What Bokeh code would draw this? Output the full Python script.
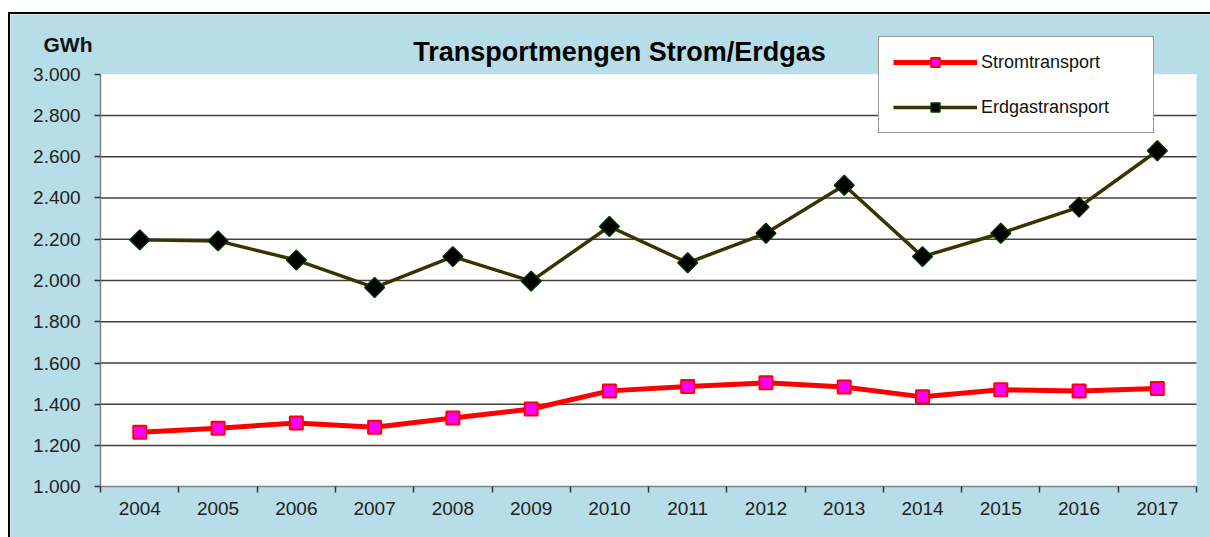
import numpy as np
from bokeh.plotting import figure
from bokeh.models import (Range1d, FixedTicker, Legend, LegendItem, Label, Spacer,
                          LinearAxis, BoxAnnotation)
from bokeh.layouts import column, row
from bokeh.embed import file_html
from bokeh.resources import INLINE

years = [2004, 2005, 2006, 2007, 2008, 2009, 2010, 2011, 2012, 2013, 2014, 2015, 2016, 2017]
strom = [1265, 1284, 1309, 1289, 1333, 1377, 1465, 1486, 1504, 1484, 1436, 1471, 1465, 1476]
erdgas = [2197, 2192, 2099, 1966, 2116, 1997, 2262, 2086, 2229, 2462, 2116, 2229, 2356, 2629]
y_ticks = [1000, 1200, 1400, 1600, 1800, 2000, 2200, 2400, 2600, 2800, 3000]
y_tick_labels = ["1.000", "1.200", "1.400", "1.600", "1.800", "2.000",
                 "2.200", "2.400", "2.600", "2.800", "3.000"]
title_text = "Transportmengen Strom/Erdgas"
unit_text = "GWh"
series_names = ["Stromtransport", "Erdgastransport"]

FONT = "Liberation Sans"
BLUE = "#B7DDE8"

# layout geometry (pixels) - the frame fills the whole canvas
FRAME_W, FRAME_H = 1200, 523
PLOT_LEFT, PLOT_RIGHT = 90, 1184        # data area inside frame (x)
PLOT_TOP, PLOT_BOTTOM = 59.5, 470.5     # data area inside frame (y, from top)
x0, x1 = years[0] - 0.5, years[-1] + 0.5
xppu = (PLOT_RIGHT - PLOT_LEFT) / (x1 - x0)
y0, y1 = y_ticks[0], y_ticks[-1]
yppu = (PLOT_BOTTOM - PLOT_TOP) / (y1 - y0)

p = figure(frame_width=FRAME_W, frame_height=FRAME_H,
           min_border_left=0, min_border_top=0, min_border_right=0, min_border_bottom=0,
           x_range=Range1d(x0 - PLOT_LEFT / xppu, x1 + (FRAME_W - PLOT_RIGHT) / xppu),
           y_range=Range1d(y0 - (FRAME_H - PLOT_BOTTOM) / yppu, y1 + PLOT_TOP / yppu),
           x_axis_location=None, y_axis_location=None,
           output_backend="svg", toolbar_location=None,
           border_fill_color=BLUE, background_fill_color=BLUE,
           outline_line_color=None)
p.styles = {"border-top": "2px solid black", "border-left": "2px solid black"}
p.xgrid.visible = False
p.ygrid.visible = False

# white plot area
p.add_layout(BoxAnnotation(left=x0, right=x1, bottom=y0, top=y1, fill_color="white",
                           fill_alpha=1.0, line_color=None, level="underlay"))

# x axis: labels at centers, ticks at boundaries
xa = LinearAxis(fixed_location=y0, bounds=(x0, x1))
xa.ticker = FixedTicker(ticks=years, minor_ticks=[y - 0.5 for y in years] + [x1])
xa.major_label_overrides = {y: str(y) for y in years}
xa.major_tick_out = 0
xa.major_tick_in = 0
xa.minor_tick_out = 6
xa.minor_tick_in = 0
xa.minor_tick_line_color = "#333333"
xa.minor_tick_line_width = 1.5
xa.axis_line_color = "#808080"
xa.axis_line_width = 1.5
xa.major_label_text_font = FONT
xa.major_label_text_font_size = "19px"
xa.major_label_text_color = "#222222"
xa.major_label_standoff = 9
p.add_layout(xa, "below")

ya = LinearAxis(fixed_location=x0, bounds=(y0, y1))
ya.ticker = FixedTicker(ticks=y_ticks, minor_ticks=[])
ya.major_label_overrides = {t: l for t, l in zip(y_ticks, y_tick_labels)}
ya.major_tick_out = 6
ya.major_tick_in = 0
ya.major_tick_line_color = "#333333"
ya.major_tick_line_width = 1.5
ya.minor_tick_out = 0
ya.minor_tick_in = 0
ya.axis_line_color = "#808080"
ya.axis_line_width = 1.5
ya.major_label_text_font = FONT
ya.major_label_text_font_size = "19px"
ya.major_label_text_color = "#222222"
ya.major_label_standoff = 14
p.add_layout(ya, "left")

# horizontal gridlines at inner ticks, only across the data area
grid_y = y_ticks[1:-1]
p.segment(x0=[x0] * len(grid_y), x1=[x1] * len(grid_y), y0=grid_y, y1=grid_y,
          line_color="#404040", line_width=1.5)

l1 = p.line(years, strom, line_color="#FF0000", line_width=5)
m1 = p.scatter(years, strom, marker="square", size=13, fill_color="#FF00FF",
               line_color="#FF0000", line_width=2)
l2 = p.line(years, erdgas, line_color="#383400", line_width=3.5)
m2 = p.scatter(years, erdgas, marker="square", angle=np.pi / 4, size=14,
               fill_color="black", line_color="#003300", line_width=1.5)

legend = Legend(items=[LegendItem(label=series_names[0], renderers=[l1, m1]),
                       LegendItem(label=series_names[1], renderers=[l2, m2])],
                location=(868, 406), orientation="vertical",
                padding=14, spacing=23, label_height=22, glyph_height=22,
                glyph_width=84, label_standoff=4, label_width=158,
                label_text_font=FONT, label_text_font_size="18px",
                label_text_color="#111111",
                border_line_color="#333333", border_line_width=1,
                background_fill_color="white", background_fill_alpha=1.0,
                margin=0)
p.add_layout(legend, "center")

p.add_layout(Label(x=609, y=488, x_units="screen", y_units="screen", text=title_text,
                   text_font=FONT, text_font_size="27px", text_font_style="bold",
                   text_align="center", text_baseline="middle", text_color="black"))
p.add_layout(Label(x=33, y=495, x_units="screen", y_units="screen", text=unit_text,
                   text_font=FONT, text_font_size="21px", text_font_style="bold",
                   text_align="left", text_baseline="middle", text_color="#111111"))

layout = row(Spacer(width=8), column(Spacer(height=12), p))
open("out.html", "w").write(file_html(layout, INLINE))
